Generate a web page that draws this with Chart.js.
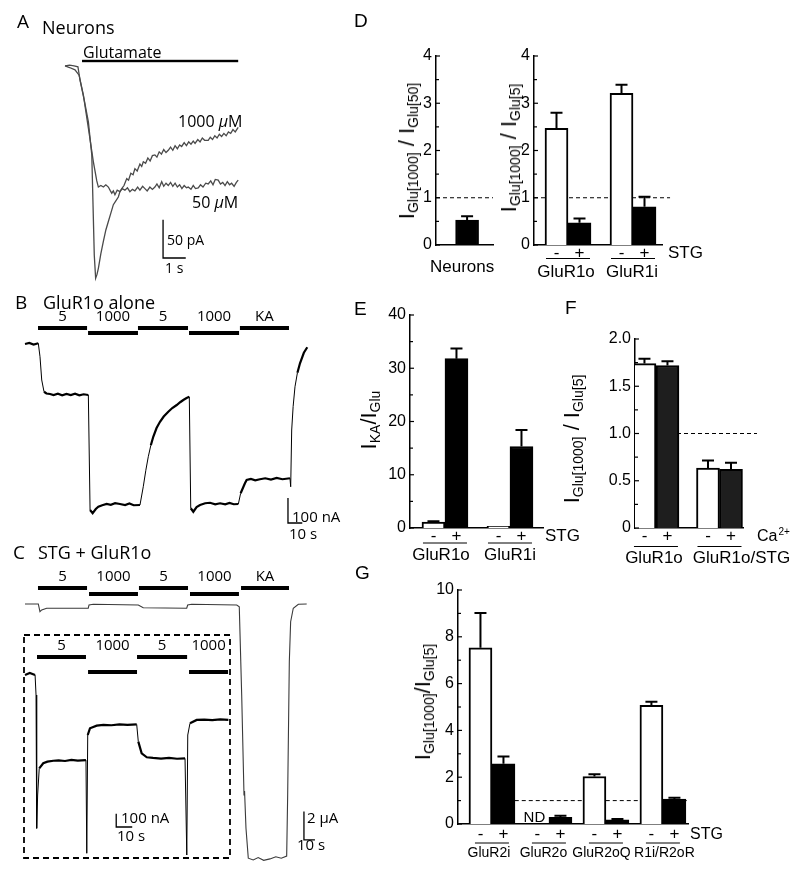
<!DOCTYPE html>
<html>
<head>
<meta charset="utf-8">
<script src="https://cdn.jsdelivr.net/npm/chart.js@4.4.1/dist/chart.umd.min.js"></script>
<style>
body { margin: 0; background: #fff; }
#fig { position: relative; width: 800px; height: 872px; overflow: hidden; }
#fig canvas { position: absolute; left: 0; top: 0; width: 800px; height: 872px; }
.tx { position: absolute; white-space: nowrap; line-height: 1; color: #000; transform: translateY(-50%); }
.my { font-family: 'Open Sans', sans-serif; }
.hv { font-family: 'Liberation Sans', Arial, sans-serif; }
.yt { position: absolute; white-space: nowrap; line-height: 1; color: #000;
      transform: translate(-50%, -50%) rotate(-90deg);
      font-family: 'Liberation Sans', Arial, sans-serif; font-size: 22px; }
.yt sub { font-size: 14px; vertical-align: -0.3em; line-height: 0; }
</style>
</head>
<body>
<div id="fig">
  <canvas id="cA" width="800" height="872"></canvas>
  <canvas id="cB" width="800" height="872"></canvas>
  <canvas id="cC" width="800" height="872"></canvas>
  <canvas id="cInset" width="800" height="872"></canvas>
  <canvas id="cD1" width="800" height="872"></canvas>
  <canvas id="cD2" width="800" height="872"></canvas>
  <canvas id="cE" width="800" height="872"></canvas>
  <canvas id="cF" width="800" height="872"></canvas>
  <canvas id="cG" width="800" height="872"></canvas>

  <!-- panel A -->
  <div class="tx my" style="left:17px;top:21px;font-size:19px">A</div>
  <div class="tx my" style="left:42px;top:27px;font-size:18px">Neurons</div>
  <div class="tx my" style="left:83px;top:52px;font-size:16px">Glutamate</div>
  <div class="tx my" style="left:178px;top:121px;font-size:16px">1000 <i>µ</i>M</div>
  <div class="tx my" style="left:192px;top:202px;font-size:16px">50 <i>µ</i>M</div>
  <div class="tx my" style="left:167px;top:240px;font-size:14px">50 pA</div>
  <div class="tx my" style="left:165px;top:268px;font-size:14px">1 s</div>

  <!-- panel B -->
  <div class="tx my" style="left:15px;top:302px;font-size:19px">B</div>
  <div class="tx my" style="left:43px;top:302px;font-size:18px">GluR1o alone</div>
  <div class="tx my" style="left:292px;top:516px;font-size:15px">100 nA</div>
  <div class="tx my" style="left:289px;top:533px;font-size:15px">10 s</div>

  <!-- panel C -->
  <div class="tx my" style="left:13px;top:552px;font-size:19px">C</div>
  <div class="tx my" style="left:38px;top:552px;font-size:18px">STG + GluR1o</div>
  <div class="tx my" style="left:121px;top:817px;font-size:15px">100 nA</div>
  <div class="tx my" style="left:117px;top:835px;font-size:15px">10 s</div>
  <div class="tx my" style="left:307px;top:817px;font-size:15px">2 μA</div>
  <div class="tx my" style="left:297px;top:844px;font-size:15px">10 s</div>

  <!-- panel letters right column -->
  <div class="tx hv" style="left:354px;top:20px;font-size:19px">D</div>
  <div class="tx hv" style="left:354px;top:308px;font-size:19px">E</div>
  <div class="tx hv" style="left:565px;top:307px;font-size:19px">F</div>
  <div class="tx hv" style="left:355px;top:572px;font-size:19px">G</div>

  <!-- y axis titles -->
  <div class="yt" style="left:407px;top:151px">I<sub>Glu[1000]</sub> / I<sub>Glu[50]</sub></div>
  <div class="yt" style="left:509px;top:148px">I<sub>Glu[1000]</sub> / I<sub>Glu[5]</sub></div>
  <div class="yt" style="left:369px;top:420px">I<sub>KA</sub>/I<sub>Glu</sub></div>
  <div class="yt" style="left:572px;top:439px">I<sub>Glu[1000]</sub> / I<sub>Glu[5]</sub></div>
  <div class="yt" style="left:423px;top:702px">I<sub>Glu[1000]</sub>/I<sub>Glu[5]</sub></div>
</div>

<script>
// ---------- A: neuron currents (s, pA) ----------
const aT1000 = [0, 0.2, 0.4, 0.57, 0.66, 0.85, 1.03, 1.18, 1.29, 1.35, 1.41, 1.47, 1.58, 1.69, 1.80, 1.91, 2.02, 2.13, 2.24, 2.35, 2.42, 2.50, 2.60, 2.72, 2.80, 2.90, 3.00, 3.08, 3.18, 3.30, 3.38, 3.45, 3.55, 3.65, 3.75, 3.85, 3.96, 4.05, 4.15, 4.25, 4.35, 4.45, 4.55, 4.65, 4.75, 4.85, 4.95, 5.05, 5.14, 5.25, 5.35, 5.45, 5.55, 5.65, 5.73, 5.85, 5.95, 6.05, 6.15, 6.31, 6.40, 6.50, 6.60, 6.70, 6.80, 6.90, 7.00, 7.10, 7.20, 7.30, 7.40, 7.50, 7.63];
const aI1000 = [0, 1, 0, -1, -18, -45, -73, -116, -247, -277, -272, -264, -245, -229, -214, -203, -192, -181, -176, -171, -164, -160, -156, -147, -149, -140, -142, -134, -137, -128, -131, -125, -127, -120, -124, -117, -116, -119, -112, -115, -109, -113, -110, -106, -110, -104, -108, -103, -105, -100, -104, -99, -102, -98, -101, -96, -99, -94, -97, -97, -93, -96, -91, -94, -89, -92, -88, -91, -86, -88, -83, -86, -80];
const aT50 = [0, 0.2, 0.44, 0.62, 0.81, 1.03, 1.25, 1.40, 1.47, 1.58, 1.69, 1.80, 1.91, 2.00, 2.06, 2.13, 2.20, 2.30, 2.42, 2.52, 2.64, 2.75, 2.86, 2.97, 3.08, 3.20, 3.30, 3.42, 3.52, 3.62, 3.74, 3.85, 3.96, 4.05, 4.15, 4.26, 4.35, 4.45, 4.55, 4.65, 4.75, 4.85, 4.95, 5.05, 5.15, 5.25, 5.35, 5.43, 5.55, 5.65, 5.75, 5.87, 5.97, 6.08, 6.20, 6.31, 6.42, 6.52, 6.62, 6.75, 6.85, 6.95, 7.05, 7.15, 7.25, 7.34, 7.45, 7.55, 7.63];
const aI50 = [0, -2, -5, -12, -38, -81, -125, -150, -158, -156, -158, -155, -158, -163, -166, -163, -168, -162, -164, -160, -162, -159, -164, -161, -163, -158, -162, -157, -160, -163, -158, -161, -158, -154, -159, -151, -157, -153, -156, -152, -157, -153, -158, -155, -160, -156, -159, -158, -161, -156, -160, -159, -155, -158, -153, -154, -150, -155, -148, -149, -154, -152, -156, -151, -155, -153, -157, -152, -149];
const glutamateOn = [0.75, 7.63];

// ---------- B: GluR1o alone (s, nA) ----------
const bT = [0, 3, 6, 9.3, 10.5, 11.7, 13.3, 15, 17.5, 20, 23, 26, 29, 32, 35, 38, 41, 44.3, 45.5, 47.3, 49.5, 51.3, 54, 57.1, 60, 63, 66.4, 70, 73, 76, 80.4, 82.7, 84.5, 86.2, 88, 89.7, 92, 94.4, 97, 100.2, 103, 106.1, 108.5, 110.7, 113, 114.9, 115.9, 117.7, 120, 122.4, 126, 129.4, 133, 136.4, 140, 143, 146, 149.2, 150.8, 153.8, 155, 158, 161, 164.3, 168, 172, 176, 180, 185.3, 185.8, 186.5, 187.5, 188.8, 190.5, 192.3, 195, 197.4];
const bI = [0, 4, -2, 3, -51, -144, -191, -198, -200, -204, -199, -205, -200, -204, -199, -205, -201, -204, -664, -677, -660, -651, -645, -640, -643, -637, -640, -644, -638, -645, -644, -571, -505, -451, -405, -371, -336, -311, -290, -271, -256, -244, -233, -224, -216, -211, -657, -671, -652, -644, -637, -635, -641, -637, -641, -636, -641, -640, -597, -557, -544, -540, -545, -541, -537, -542, -536, -541, -537, -571, -344, -250, -171, -115, -77, -35, -13];
const appLabels = ['5', '1000', '5', '1000', 'KA'];
const bAppStart = [9.1, 44.1, 79.0, 114.7, 150.3];
const bAppEnd = [43.4, 79.0, 114.0, 149.7, 184.6];

// ---------- C: STG + GluR1o (s, µA) ----------
const cT = [0, 12.1, 13.6, 15.2, 19.7, 57.5, 58.2, 62.1, 103.0, 107.5, 147.0, 147.9, 151.5, 192.5, 194.8, 197.0, 199.1, 199.6, 200.9, 203.0, 207.5, 212, 217, 222.7, 228, 233, 237.9, 238.8, 240.3, 241.5, 243.9, 248.5, 256.1];
const cI = [0, 0, -0.54, -0.42, -0.30, -0.30, -0.07, -0.02, -0.07, -0.26, -0.30, -0.07, -0.02, -0.07, -0.19, -6.42, -13.48, -13.2, -15.84, -17.95, -18.07, -17.9, -18.1, -18.0, -17.85, -17.95, -17.8, -13.48, -4.07, -1.25, -0.30, -0.02, 0];
const cAppStart = [11.8, 58.2, 103.6, 150.0, 196.4];
const cAppEnd = [56.4, 102.7, 148.2, 194.5, 240.0];

// inset of C (s, nA)
const insetT = [0, 3, 6.3, 6.9, 7.3, 7.9, 8.9, 11.4, 14, 17.7, 21, 25, 29, 33, 38.1, 38.6, 39.2, 40.6, 44.8, 49, 54, 59, 64, 69.8, 70.8, 72.9, 76.1, 80, 85, 90, 95, 100, 101.1, 101.7, 103.1, 107.3, 112, 117, 122, 127.1];
const insetI = [0, 15, 0, -150, -1150, -900, -700, -662, -650, -643, -640, -645, -636, -642, -638, -1337, -450, -400, -380, -374, -377, -370, -374, -370, -500, -587, -617, -622, -627, -622, -628, -625, -1350, -450, -362, -337, -334, -339, -333, -337];
const insetLabels = ['5', '1000', '5', '1000'];
const insetAppStart = [7.5, 39.4, 70, 102.5];
const insetAppEnd = [38.1, 70, 101.3, 126.9];

// ---------- D ----------
const dNeuronGroups = ['Neurons'];
const dNeuronMean = [0.53];
const dNeuronErr = [0.08];
const dGroups = ['GluR1o', 'GluR1i'];
const dMinus = [2.47, 3.21];
const dMinusErr = [0.33, 0.18];
const dPlus = [0.47, 0.81];
const dPlusErr = [0.09, 0.21];

// ---------- E ----------
const eGroups = ['GluR1o', 'GluR1i'];
const eMinus = [1.1, 0.3];
const eMinusErr = [0.15, 0];
const ePlus = [31.8, 15.3];
const ePlusErr = [1.9, 3.1];

// ---------- F ----------
const fGroups = ['GluR1o', 'GluR1o/STG'];
const fMinus = [1.74, 0.635];
const fMinusErr = [0.05, 0.08];
const fPlus = [1.72, 0.62];
const fPlusErr = [0.045, 0.07];

// ---------- G ----------
const gGroups = ['GluR2i', 'GluR2o', 'GluR2oQ', 'R1i/R2oR'];
const gMinus = [7.53, null, 2.03, 5.07];
const gMinusErr = [1.49, 0, 0.1, 0.15];
const gPlus = [2.57, 0.28, 0.18, 1.07];
const gPlusErr = [0.31, 0.07, 0.03, 0.05];

Chart.defaults.font.family = "'Liberation Sans', Arial, sans-serif";
Chart.defaults.color = '#000';
Chart.defaults.animation = false;
Chart.defaults.responsive = false;
Chart.defaults.events = [];
Chart.defaults.plugins.legend.display = false;
Chart.defaults.plugins.tooltip.enabled = false;

const HV = "'Liberation Sans', Arial, sans-serif";
const MY = "'Open Sans', sans-serif";

// area = [left, top, right, bottom] of the plot in page pixels
function pad(area, yw) {
    return { left: area[0] - yw, top: area[1], right: 800 - area[2], bottom: 872 - area[3] };
}

function steep(c) {
    return Math.abs(c.p1.y - c.p0.y) > 3 * Math.abs(c.p1.x - c.p0.x) + 2;
}

// ---------- trace panels ----------
function traceDecor(d) {
    return {
        id: 'traceDecor',
        afterDatasetsDraw(chart) {
            const { ctx, chartArea, scales: { x, y } } = chart;
            ctx.save();
            ctx.fillStyle = '#000';
            ctx.strokeStyle = '#000';
            if (d.bar) {
                const x0 = x.getPixelForValue(d.bar.on[0]), x1 = x.getPixelForValue(d.bar.on[1]);
                ctx.fillRect(x0, d.bar.y - 1.2, x1 - x0, 2.4);
            }
            if (d.apps) {
                ctx.font = '15px ' + MY;
                ctx.textAlign = 'center';
                ctx.textBaseline = 'middle';
                d.apps.labels.forEach((lab, i) => {
                    const x0 = x.getPixelForValue(d.apps.start[i]);
                    const x1 = x.getPixelForValue(d.apps.end[i]);
                    const yy = d.apps.barY + (lab === '1000' ? d.apps.drop : 0);
                    ctx.fillRect(x0, yy - 2, x1 - x0, 4);
                    ctx.fillText(lab, (x0 + x1) / 2, d.apps.textY);
                });
            }
            if (d.scale) {
                const s = d.scale;
                const px = x.getPixelForValue(s.t), py = y.getPixelForValue(s.v);
                ctx.lineWidth = 1.3;
                ctx.beginPath();
                ctx.moveTo(px, y.getPixelForValue(s.v + s.dv));
                ctx.lineTo(px, py);
                ctx.lineTo(x.getPixelForValue(s.t + s.dt), py);
                ctx.stroke();
            }
            if (d.box) {
                ctx.lineWidth = 1.8;
                ctx.setLineDash([6, 4]);
                ctx.strokeRect(chartArea.left - 1, chartArea.top, chartArea.right - chartArea.left + 1, chartArea.bottom - chartArea.top);
            }
            ctx.restore();
        }
    };
}

function traceChart(id, area, xr, yr, sets, deco) {
    return new Chart(document.getElementById(id), {
        type: 'line',
        data: {
            datasets: sets.map(s => ({
                data: s.t.map((t, i) => ({ x: t, y: s.v[i] })),
                borderColor: s.color,
                borderWidth: s.width,
                pointRadius: 0,
                tension: 0,
                clip: false,
                segment: s.thinSteep ? { borderWidth: c => steep(c) ? 1 : s.width } : {}
            }))
        },
        options: {
            layout: { padding: pad(area, 0) },
            scales: {
                x: { type: 'linear', display: false, min: xr[0], max: xr[1] },
                y: { type: 'linear', display: false, min: yr[0], max: yr[1] }
            }
        },
        plugins: [traceDecor(deco)]
    });
}

traceChart('cA', [65, 60, 245, 285], [0, 7.93], [-285.8, 7.8], [
    { t: aT50, v: aI50, color: '#4a4a4a', width: 1.3 },
    { t: aT1000, v: aI1000, color: '#4a4a4a', width: 1.3 }
], { bar: { on: glutamateOn, y: 61 }, scale: { t: 4.32, v: -250.6, dt: 1, dv: 50 } });

traceChart('cB', [25, 340, 310, 520], [0, 199.3], [-704, 16], [
    { t: bT, v: bI, color: '#000', width: 2.2, thinSteep: true }
], {
    apps: { labels: appLabels, start: bAppStart, end: bAppEnd, barY: 328, drop: 5, textY: 317 },
    scale: { t: 183.9, v: -716, dt: 10, dv: 100 }
});

traceChart('cC', [25, 595, 310, 865], [0, 259.1], [-18.43, 0.635], [
    { t: cT, v: cI, color: '#3a3a3a', width: 1.1 }
], {
    apps: { labels: appLabels, start: cAppStart, end: cAppEnd, barY: 588, drop: 6, textY: 577 },
    scale: { t: 253.6, v: -16.66, dt: 10, dv: 2 }
});

traceChart('cInset', [25, 635, 230, 858], [0, 128.1], [-1372.5, 300], [
    { t: insetT, v: insetI, color: '#000', width: 2.2, thinSteep: true }
], {
    apps: { labels: insetLabels, start: insetAppStart, end: insetAppEnd, barY: 657, drop: 15, textY: 646 },
    scale: { t: 57, v: -1140, dt: 10, dv: 100 },
    box: true
});

// ---------- bar panels ----------
function isMajor(v, major) {
    return Math.abs(v / major - Math.round(v / major)) < 1e-6;
}

function barDecor(cfg) {
    return {
        id: 'barDecor',
        beforeDatasetsDraw(chart) {
            if (!cfg.ref) return;
            const { ctx, scales: { x, y } } = chart;
            const yy = y.getPixelForValue(1);
            ctx.save();
            ctx.strokeStyle = '#000';
            ctx.lineWidth = 1;
            ctx.setLineDash([4, 3]);
            ctx.beginPath();
            ctx.moveTo(x.getPixelForValue(cfg.ref[0]), yy);
            ctx.lineTo(x.getPixelForValue(cfg.ref[1]), yy);
            ctx.stroke();
            ctx.restore();
        },
        afterDatasetsDraw(chart) {
            const { ctx, chartArea, scales: { x, y } } = chart;
            ctx.save();
            ctx.strokeStyle = '#000';
            ctx.fillStyle = '#000';
            // inward tick marks
            ctx.lineWidth = 1.2;
            y.ticks.forEach(t => {
                const py = y.getPixelForValue(t.value);
                const len = isMajor(t.value, cfg.major) ? 4 : 3;
                ctx.beginPath();
                ctx.moveTo(chartArea.left, py);
                ctx.lineTo(chartArea.left + len, py);
                ctx.stroke();
            });
            // error bars
            ctx.lineWidth = 2;
            chart.data.datasets.forEach((ds, di) => {
                chart.getDatasetMeta(di).data.forEach((bar, i) => {
                    const v = ds.data[i].y, e = ds.errors[i];
                    if (v == null) {
                        ctx.font = '15px ' + HV;
                        ctx.textAlign = 'center';
                        ctx.textBaseline = 'alphabetic';
                        ctx.fillText('ND', bar.x - 3, chartArea.bottom - 2);
                        return;
                    }
                    if (!e) return;
                    const top = y.getPixelForValue(v + e);
                    ctx.beginPath();
                    ctx.moveTo(bar.x, bar.y);
                    ctx.lineTo(bar.x, top);
                    ctx.moveTo(bar.x - 6, top);
                    ctx.lineTo(bar.x + 6, top);
                    ctx.stroke();
                });
            });
            // category annotations under the axis
            const b = chartArea.bottom;
            ctx.textAlign = 'center';
            ctx.textBaseline = 'middle';
            ctx.lineWidth = 1;
            cfg.groups.forEach((g, i) => {
                const cx = x.getPixelForValue(i);
                if (cfg.signs) {
                    ctx.font = '17px ' + HV;
                    ctx.fillText('-', cx - 11.5, b + cfg.signDy);
                    ctx.fillText('+', cx + 11.5, b + cfg.signDy);
                    ctx.beginPath();
                    ctx.moveTo(cx - cfg.lineW / 2, b + cfg.lineDy);
                    ctx.lineTo(cx + cfg.lineW / 2, b + cfg.lineDy);
                    ctx.stroke();
                }
                ctx.font = cfg.labelSize + 'px ' + HV;
                ctx.fillText(g, cx + (cfg.labelDx ? cfg.labelDx[i] : 0), b + cfg.labelDy);
            });
            if (cfg.tag) {
                ctx.textAlign = 'left';
                ctx.font = cfg.tagSize + 'px ' + HV;
                const tx = chartArea.right + cfg.tagDx;
                ctx.fillText(cfg.tag, tx, b + cfg.signDy);
                if (cfg.tagSup) {
                    const w = ctx.measureText(cfg.tag).width;
                    ctx.font = '10px ' + HV;
                    ctx.fillText(cfg.tagSup, tx + w + 1, b + cfg.signDy - 4);
                }
            }
            ctx.restore();
        }
    };
}

function barChart(id, area, cfg) {
    const fills = ['#fff', cfg.dark || '#000'];
    const sets = cfg.series.map((s, k) => ({
        data: s.values.map((v, i) => ({ x: i, y: v })),
        errors: s.errors,
        backgroundColor: s.fill || fills[k],
        borderColor: '#000',
        borderWidth: 2,
        barThickness: 23
    }));
    return new Chart(document.getElementById(id), {
        type: 'bar',
        data: { datasets: sets },
        options: {
            layout: { padding: pad(area, 40) },
            scales: {
                x: {
                    type: 'linear', offset: false, min: cfg.xr[0], max: cfg.xr[1],
                    grid: { display: false, drawTicks: false },
                    ticks: { display: false },
                    border: { color: '#000', width: 1.5 },
                    afterFit: s => { s.height = 0; }
                },
                y: {
                    type: 'linear', min: 0, max: cfg.ymax,
                    grid: { display: false, drawTicks: false },
                    border: { color: '#000', width: 1.5 },
                    ticks: {
                        stepSize: cfg.minor, autoSkip: false, padding: 4,
                        font: { size: 16 },
                        callback: v => isMajor(v, cfg.major) ? (v === 0 ? '0' : v.toFixed(cfg.digits || 0)) : ''
                    },
                    afterFit: s => { s.width = 40; }
                }
            }
        },
        plugins: [barDecor(cfg)]
    });
}

barChart('cD1', [436, 56, 493, 245], {
    xr: [-0.48, 0.4], ymax: 4, minor: 0.5, major: 1, ref: [-0.48, 0.4],
    groups: dNeuronGroups, labelSize: 17, labelDy: 22, labelDx: [-5],
    series: [{ values: dNeuronMean, errors: dNeuronErr, fill: '#000' }]
});

barChart('cD2', [534, 56, 662, 245], {
    xr: [-0.523, 1.446], ymax: 4, minor: 0.5, major: 1, ref: [-0.523, 1.57],
    groups: dGroups, signs: true, signDy: 8, lineDy: 13.5, lineW: 44, labelSize: 17, labelDy: 27,
    labelDx: [-2, -1],
    tag: 'STG', tagSize: 17, tagDx: 6,
    series: [{ values: dMinus, errors: dMinusErr }, { values: dPlus, errors: dPlusErr }]
});

barChart('cE', [410, 315, 543, 528], {
    xr: [-0.538, 1.508], ymax: 40, minor: 5, major: 10,
    groups: eGroups, signs: true, signDy: 8.5, lineDy: 15, lineW: 44, labelSize: 17, labelDy: 27,
    labelDx: [-4, 0],
    tag: 'STG', tagSize: 17, tagDx: 2,
    series: [{ values: eMinus, errors: eMinusErr }, { values: ePlus, errors: ePlusErr }]
});

barChart('cF', [635, 339, 743, 528], {
    xr: [-0.33, 1.37], ymax: 2, minor: 0.25, major: 0.5, digits: 1, ref: [-0.33, 1.59],
    groups: fGroups, signs: true, signDy: 8.7, lineDy: 18.5, lineW: 44, labelSize: 17, labelDy: 30,
    labelDx: [-2, 22],
    tag: 'Ca', tagSup: '2+', tagSize: 16, tagDx: 14, dark: '#1e1e1e',
    series: [{ values: fMinus, errors: fMinusErr }, { values: fPlus, errors: fPlusErr }]
});

barChart('cG', [458, 590, 688, 824], {
    xr: [-0.596, 3.44], ymax: 10, minor: 1, major: 2, ref: [0.4, 3.44],
    groups: gGroups, signs: true, signDy: 10.5, lineDy: 19, lineW: 34, labelSize: 14, labelDy: 29,
    labelDx: [-3, -5.5, -4.5, 1.5],
    tag: 'STG', tagSize: 16, tagDx: 2,
    series: [{ values: gMinus, errors: gMinusErr }, { values: gPlus, errors: gPlusErr }]
});
</script>
</body>
</html>
